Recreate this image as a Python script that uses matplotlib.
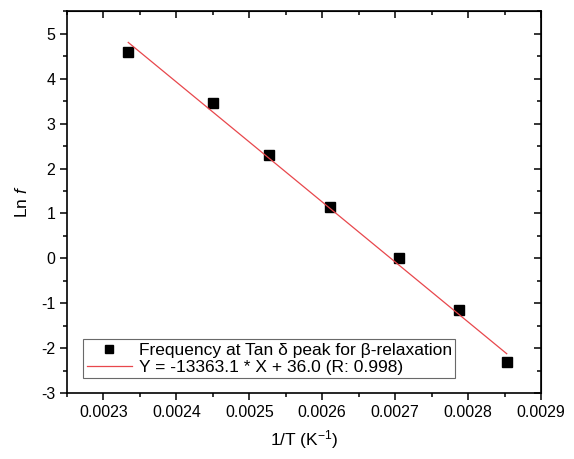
import matplotlib
matplotlib.use("Agg")
import matplotlib.pyplot as plt
from matplotlib.ticker import MultipleLocator, FormatStrFormatter
import numpy as np

plt.rcParams["font.family"] = ["Liberation Sans", "DejaVu Sans"]
plt.rcParams["mathtext.fontset"] = "custom"
plt.rcParams["mathtext.rm"] = "Liberation Sans"
plt.rcParams["mathtext.it"] = "Liberation Sans:italic"
plt.rcParams["axes.unicode_minus"] = False

# 1/T values and ln(f) at the tan delta peak
inv_T = [0.002334, 0.002450, 0.002527, 0.002610, 0.002705, 0.002788, 0.002853]
ln_f = [4.60, 3.45, 2.30, 1.15, 0.00, -1.15, -2.30]

# linear fit from the legend
slope = -13363.1
intercept = 36.0

fig = plt.figure(figsize=(5.74, 4.59), dpi=100)
ax = fig.add_axes([0.1167, 0.1438, 0.8258, 0.8312])

ax.plot(inv_T, ln_f, "s", color="black", markersize=6.5,
        label="Frequency at Tan δ peak for β-relaxation")
xfit = np.array([min(inv_T), max(inv_T)])
ax.plot(xfit, slope * xfit + intercept, color="#e8474c", lw=0.9,
        label="Y = -13363.1 * X + 36.0 (R: 0.998)")

ax.set_xlim(0.00225, 0.0029)
ax.set_ylim(-3, 5.5)
ax.xaxis.set_major_locator(MultipleLocator(0.0001))
ax.xaxis.set_minor_locator(MultipleLocator(0.00005))
ax.yaxis.set_major_locator(MultipleLocator(1))
ax.yaxis.set_minor_locator(MultipleLocator(0.5))
ax.xaxis.set_major_formatter(FormatStrFormatter("%.4f"))

for s in ax.spines.values():
    s.set_linewidth(1.2)
ax.tick_params(which="both", direction="out", top=False, right=False,
               labelsize=11.5, width=1.1)
ax.tick_params(which="major", length=5)
ax.tick_params(which="minor", length=3)

# inward ticks on top and right spines
ax2 = ax.secondary_xaxis("top")
ax2.xaxis.set_major_locator(MultipleLocator(0.0001))
ax2.xaxis.set_minor_locator(MultipleLocator(0.00005))
ax2.tick_params(which="both", direction="in", labeltop=False, width=1.1)
ax2.tick_params(which="major", length=5)
ax2.tick_params(which="minor", length=3)
ax3 = ax.secondary_yaxis("right")
ax3.yaxis.set_major_locator(MultipleLocator(1))
ax3.yaxis.set_minor_locator(MultipleLocator(0.5))
ax3.tick_params(which="both", direction="in", labelright=False, width=1.1)
ax3.tick_params(which="major", length=5)
ax3.tick_params(which="minor", length=3)

ax.set_xlabel("1/T (K$^{-1}$)", fontsize=12.5, labelpad=6)
ax.set_ylabel("Ln $f$", fontsize=12.5, labelpad=8)

leg = ax.legend(loc="lower left", bbox_to_anchor=(0.034, 0.039), fontsize=12.5,
                frameon=True, fancybox=False, edgecolor="#444444",
                borderpad=0.2, handlelength=2.6, handletextpad=0.4,
                labelspacing=0.1, borderaxespad=0, markerscale=0.8)
leg.get_frame().set_linewidth(0.8)

fig.savefig("out.png", dpi=100)
